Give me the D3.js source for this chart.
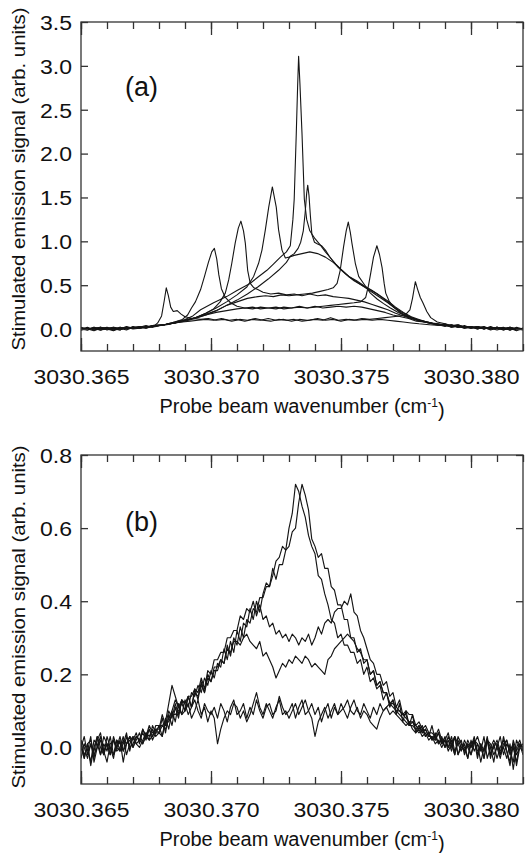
<!doctype html>
<html lang="en">
<head>
<meta charset="UTF-8">
<title>Stimulated emission spectra</title>
<style type="text/css">
body {
  margin: 0;
  padding: 0;
  background: #fff;
}
</style>
<script src="https://cdn.jsdelivr.net/npm/d3@7"></script>
</head>
<body>
<div id="chart"></div>
<script type="text/javascript">

var FONT = "'Liberation Sans', Arial, sans-serif";

// wavenumbers are stored as offsets from X0, in units of 0.001 cm-1
var X0 = 3030.365;
var xMax = 17;
var majorTicks = [3030.365, 3030.370, 3030.375, 3030.380];
var minorOffsets = [0, 1, 2, 3, 4, 5, 6, 7, 8, 9, 10, 11, 12, 13, 14, 15, 16, 17];

var ticksA = [0, 0.5, 1.0, 1.5, 2.0, 2.5, 3.0, 3.5];
var ticksB = [0, 0.2, 0.4, 0.6, 0.8];

// panel (a): [offset, signal]
var trA1 = [[0,0.00],[0.25,0.02],[0.5,-0.01],[0.75,0.01],[1,0.00],[1.25,-0.02],[1.5,0.01],[1.75,0.02],[2,0.00],[2.25,0.01],[2.5,0.03],[2.75,0.02],[2.95,0.07],[3.1,0.15],[3.2,0.32],[3.28,0.47],[3.36,0.38],[3.45,0.25],[3.55,0.20],[3.7,0.21],[3.85,0.17],[4.0,0.14],[4.3,0.12],[4.6,0.11],[4.9,0.12],[5.2,0.10],[5.5,0.11],[5.8,0.09],[6.1,0.11],[6.4,0.10],[6.7,0.12],[7.0,0.10],[7.3,0.09],[7.6,0.11],[7.9,0.10],[8.2,0.11],[8.5,0.09],[8.8,0.10],[9.1,0.12],[9.4,0.10],[9.7,0.11],[10.0,0.09],[10.3,0.11],[10.6,0.10],[10.9,0.11],[11.2,0.10],[11.5,0.11],[11.8,0.10],[12.1,0.09],[12.4,0.08],[12.7,0.07],[13.0,0.06],[13.4,0.05],[13.8,0.04],[14,0.05],[14.25,0.02],[14.5,0.03],[14.75,0.01],[15,0.03],[15.25,0.00],[15.5,0.02],[15.75,-0.01],[16,0.01],[16.25,0.02],[16.5,-0.01],[16.75,0.01],[17,0.00]];
var trA2 = [[0,0.01],[0.25,-0.01],[0.5,0.02],[0.75,0.00],[1,0.01],[1.25,-0.01],[1.5,0.02],[1.75,0.00],[2,0.03],[2.25,0.01],[2.5,0.02],[2.75,0.04],[3.2,0.05],[3.6,0.08],[3.9,0.11],[4.1,0.16],[4.25,0.24],[4.4,0.31],[4.5,0.38],[4.6,0.45],[4.75,0.60],[4.9,0.76],[5.03,0.88],[5.13,0.92],[5.22,0.80],[5.3,0.62],[5.4,0.46],[5.55,0.36],[5.75,0.30],[6.0,0.26],[6.3,0.24],[6.6,0.25],[6.9,0.23],[7.2,0.24],[7.5,0.25],[7.8,0.23],[8.1,0.24],[8.4,0.25],[8.7,0.24],[9.0,0.26],[9.3,0.24],[9.6,0.25],[9.9,0.26],[10.2,0.25],[10.5,0.26],[10.8,0.25],[11.1,0.23],[11.4,0.21],[11.7,0.19],[12.0,0.16],[12.3,0.14],[12.6,0.12],[12.9,0.09],[13.2,0.08],[13.5,0.06],[13.75,0.05],[14,0.03],[14.25,0.05],[14.5,0.02],[14.75,0.03],[15,0.01],[15.25,0.03],[15.5,0.00],[15.75,0.02],[16,0.01],[16.25,-0.01],[16.5,0.02],[16.75,0.00],[17,0.01]];
var trA3 = [[0,-0.01],[0.25,0.01],[0.5,0.00],[0.75,0.02],[1,-0.01],[1.25,0.01],[1.5,0.00],[1.75,0.03],[2,0.01],[2.25,0.02],[2.5,0.01],[2.75,0.04],[3.2,0.05],[3.6,0.07],[4.0,0.10],[4.4,0.13],[4.8,0.18],[5.1,0.23],[5.35,0.31],[5.55,0.41],[5.68,0.56],[5.8,0.75],[5.93,0.98],[6.05,1.15],[6.15,1.23],[6.25,1.12],[6.32,0.98],[6.41,0.67],[6.51,0.52],[6.65,0.47],[6.8,0.45],[7.0,0.42],[7.3,0.40],[7.6,0.41],[7.9,0.39],[8.2,0.40],[8.5,0.38],[8.8,0.40],[9.1,0.38],[9.4,0.39],[9.7,0.37],[10.0,0.36],[10.3,0.35],[10.6,0.33],[10.9,0.31],[11.2,0.28],[11.5,0.25],[11.8,0.22],[12.1,0.18],[12.4,0.15],[12.7,0.12],[13.0,0.10],[13.3,0.08],[13.6,0.06],[14,0.04],[14.25,0.05],[14.5,0.02],[14.75,0.04],[15,0.01],[15.25,0.02],[15.5,0.03],[15.75,0.00],[16,0.02],[16.25,0.00],[16.5,0.01],[16.75,-0.01],[17,0.01]];
var trA4 = [[0,0.01],[0.25,0.00],[0.5,-0.02],[0.75,0.01],[1,0.02],[1.25,0.00],[1.5,0.01],[1.75,-0.01],[2,0.02],[2.25,0.03],[2.5,0.01],[2.75,0.03],[3.2,0.05],[3.6,0.07],[4.0,0.10],[4.4,0.13],[4.8,0.18],[5.2,0.24],[5.6,0.31],[6.0,0.39],[6.38,0.48],[6.64,0.60],[6.83,0.75],[6.96,0.90],[7.09,1.13],[7.22,1.39],[7.36,1.62],[7.51,1.39],[7.6,1.13],[7.73,0.90],[7.86,0.81],[8.0,0.82],[8.2,0.84],[8.5,0.86],[8.8,0.88],[9.1,0.86],[9.4,0.82],[9.7,0.76],[10.0,0.68],[10.3,0.60],[10.6,0.54],[10.9,0.48],[11.2,0.42],[11.5,0.36],[11.8,0.30],[12.1,0.23],[12.4,0.17],[12.7,0.13],[13.0,0.10],[13.3,0.08],[13.6,0.06],[14,0.05],[14.25,0.03],[14.5,0.04],[14.75,0.02],[15,0.03],[15.25,0.01],[15.5,0.02],[15.75,0.01],[16,-0.01],[16.25,0.01],[16.5,0.02],[16.75,0.00],[17,0.00]];
var trA5 = [[0,0.00],[0.25,0.01],[0.5,0.00],[0.75,-0.01],[1,0.01],[1.25,0.02],[1.5,0.00],[1.75,0.01],[2,0.02],[2.25,0.01],[2.5,0.03],[2.75,0.03],[3.2,0.05],[3.6,0.08],[4.0,0.11],[4.3,0.15],[4.6,0.22],[5.1,0.30],[5.6,0.37],[6.0,0.44],[6.5,0.52],[6.8,0.59],[7.15,0.67],[7.4,0.74],[7.67,0.82],[7.9,0.88],[8.05,0.95],[8.15,1.25],[8.2,1.48],[8.28,2.23],[8.33,2.75],[8.37,3.11],[8.42,2.80],[8.5,2.23],[8.59,1.48],[8.68,1.25],[8.8,1.12],[9.0,1.03],[9.2,0.96],[9.4,0.88],[9.6,0.81],[9.8,0.74],[10.0,0.68],[10.3,0.60],[10.6,0.55],[10.9,0.49],[11.2,0.44],[11.5,0.38],[11.8,0.32],[12.1,0.25],[12.4,0.19],[12.7,0.14],[13.0,0.11],[13.3,0.08],[13.6,0.06],[14,0.04],[14.25,0.03],[14.5,0.05],[14.75,0.02],[15,0.02],[15.25,0.03],[15.5,0.00],[15.75,0.02],[16,0.01],[16.25,0.00],[16.5,0.02],[16.75,-0.01],[17,0.01]];
var trA6 = [[0,0.00],[0.25,-0.01],[0.5,0.01],[0.75,0.02],[1,0.00],[1.25,0.01],[1.5,-0.01],[1.75,0.02],[2,0.01],[2.25,0.02],[2.5,0.04],[2.75,0.02],[3.2,0.05],[3.6,0.07],[4.0,0.10],[4.4,0.13],[4.8,0.17],[5.2,0.21],[5.6,0.27],[6.0,0.33],[6.4,0.40],[6.8,0.48],[7.2,0.57],[7.6,0.67],[7.9,0.76],[8.05,0.83],[8.2,0.86],[8.35,0.92],[8.45,0.99],[8.55,1.12],[8.62,1.32],[8.68,1.55],[8.72,1.64],[8.77,1.52],[8.82,1.30],[8.88,1.08],[8.98,0.99],[9.1,0.97],[9.25,0.95],[9.4,0.90],[9.55,0.83],[9.7,0.77],[9.9,0.70],[10.2,0.62],[10.5,0.55],[10.8,0.50],[11.1,0.45],[11.4,0.40],[11.7,0.33],[12.0,0.26],[12.3,0.20],[12.6,0.15],[12.9,0.11],[13.2,0.09],[13.5,0.07],[13.75,0.06],[14,0.04],[14.25,0.04],[14.5,0.02],[14.75,0.03],[15,0.02],[15.25,0.00],[15.5,0.02],[15.75,0.01],[16,0.02],[16.25,-0.01],[16.5,0.01],[16.75,0.01],[17,-0.01]];
var trA7 = [[0,0.02],[0.25,0.00],[0.5,0.01],[0.75,-0.01],[1,0.00],[1.25,0.02],[1.5,0.01],[1.75,0.00],[2,0.02],[2.25,0.01],[2.5,0.02],[2.75,0.03],[3.2,0.05],[3.6,0.07],[4.0,0.09],[4.4,0.12],[4.8,0.16],[5.2,0.21],[5.6,0.27],[6.0,0.31],[6.4,0.35],[6.8,0.37],[7.1,0.38],[7.4,0.37],[7.7,0.39],[8.0,0.38],[8.3,0.39],[8.6,0.40],[8.9,0.41],[9.2,0.43],[9.5,0.45],[9.7,0.47],[9.85,0.52],[9.97,0.67],[10.1,0.94],[10.2,1.12],[10.28,1.22],[10.36,1.10],[10.42,0.98],[10.55,0.75],[10.68,0.60],[10.87,0.52],[11.13,0.41],[11.4,0.34],[11.64,0.29],[11.9,0.24],[12.2,0.19],[12.5,0.15],[12.8,0.12],[13.1,0.09],[13.4,0.07],[13.75,0.05],[14,0.06],[14.25,0.03],[14.5,0.04],[14.75,0.01],[15,0.02],[15.25,0.02],[15.5,0.00],[15.75,0.03],[16,0.00],[16.25,0.01],[16.5,-0.01],[16.75,0.02],[17,0.00]];
var trA8 = [[0,-0.01],[0.25,0.01],[0.5,0.00],[0.75,0.02],[1,0.01],[1.25,-0.01],[1.5,0.02],[1.75,0.01],[2,0.01],[2.25,0.03],[2.5,0.02],[2.75,0.04],[3.2,0.05],[3.6,0.07],[4.0,0.10],[4.4,0.13],[4.8,0.16],[5.2,0.19],[5.6,0.21],[6.0,0.23],[6.3,0.24],[6.6,0.23],[6.9,0.25],[7.2,0.24],[7.5,0.23],[7.8,0.25],[8.1,0.24],[8.4,0.26],[8.7,0.24],[9.0,0.25],[9.3,0.26],[9.6,0.27],[9.9,0.28],[10.2,0.29],[10.5,0.30],[10.75,0.31],[10.95,0.36],[11.06,0.50],[11.15,0.65],[11.25,0.82],[11.38,0.95],[11.48,0.85],[11.58,0.70],[11.66,0.52],[11.72,0.41],[11.85,0.32],[12.0,0.26],[12.3,0.18],[12.6,0.13],[12.9,0.10],[13.2,0.08],[13.5,0.06],[13.75,0.04],[14,0.05],[14.25,0.02],[14.5,0.04],[14.75,0.02],[15,0.01],[15.25,0.03],[15.5,0.01],[15.75,0.00],[16,0.02],[16.25,0.00],[16.5,0.01],[16.75,-0.02],[17,0.01]];
var trA9 = [[0,0.01],[0.25,0.00],[0.5,0.02],[0.75,-0.01],[1,0.01],[1.25,0.00],[1.5,-0.01],[1.75,0.02],[2,0.01],[2.25,0.02],[2.5,0.02],[2.75,0.03],[3.0,0.04],[3.3,0.05],[3.6,0.07],[3.9,0.08],[4.2,0.09],[4.5,0.10],[4.8,0.11],[5.1,0.10],[5.4,0.12],[5.7,0.10],[6.0,0.11],[6.3,0.09],[6.6,0.11],[6.9,0.10],[7.2,0.12],[7.5,0.10],[7.8,0.11],[8.1,0.09],[8.4,0.11],[8.7,0.10],[9.0,0.11],[9.3,0.10],[9.6,0.13],[9.9,0.10],[10.2,0.11],[10.5,0.10],[10.8,0.12],[11.1,0.11],[11.4,0.12],[11.7,0.13],[12.0,0.14],[12.3,0.15],[12.5,0.17],[12.65,0.22],[12.75,0.35],[12.86,0.54],[12.95,0.45],[13.05,0.36],[13.15,0.30],[13.3,0.20],[13.45,0.13],[13.7,0.08],[14,0.06],[14.25,0.04],[14.5,0.05],[14.75,0.02],[15,0.03],[15.25,0.01],[15.5,0.02],[15.75,0.00],[16,0.02],[16.25,0.01],[16.5,-0.01],[16.75,0.01],[17,0.00]];

// panel (b): common sampling grid (offsets), signals in units of 0.01
var gridB = [
  0,0.125,0.25,0.375,0.5,0.625,0.75,0.875,
  1,1.125,1.25,1.375,1.5,1.625,1.75,1.875,
  2,2.125,2.25,2.375,2.5,2.625,2.75,2.875,
  3,3.125,3.25,3.375,3.5,3.625,3.75,3.875,
  4,4.125,4.25,4.375,4.5,4.625,4.75,4.875,
  5,5.125,5.25,5.375,5.5,5.625,5.75,5.875,
  6,6.125,6.25,6.375,6.5,6.625,6.75,6.875,
  7,7.125,7.25,7.375,7.5,7.625,7.75,7.875,
  8,8.125,8.25,8.375,8.5,8.625,8.75,8.875,
  9,9.125,9.25,9.375,9.5,9.625,9.75,9.875,
  10,10.125,10.25,10.375,10.5,10.625,10.75,10.875,
  11,11.125,11.25,11.375,11.5,11.625,11.75,11.875,
  12,12.125,12.25,12.375,12.5,12.625,12.75,12.875,
  13,13.125,13.25,13.375,13.5,13.625,13.75,13.875,
  14,14.125,14.25,14.375,14.5,14.625,14.75,14.875,
  15,15.125,15.25,15.375,15.5,15.625,15.75,15.875,
  16,16.125,16.25,16.375,16.5,16.625,16.75,16.875,
  17];
var trB1 = [
  2,-3,1,-5,0,3,-2,1,
  -1,3,-2,0,2,-4,1,3,
  0,2,4,1,3,5,2,4,
  6,3,8,5,10,7,12,9,
  13,11,15,14,17,15,19,17,
  21,19,23,22,27,24,29,26,
  32,29,34,33,38,35,40,37,
  42,45,44,47,51,52,55,54,
  60,64,72,70,66,63,58,55,
  53,47,46,42,39,35,34,30,
  31,28,28,26,26,23,24,20,
  22,18,19,16,17,13,15,11,
  13,9,12,7,10,6,9,4,
  6,4,5,3,6,2,4,1,
  3,0,2,-2,3,1,-1,2,
  0,3,-2,1,-3,2,0,-4,
  1,-2,3,-1,-4,2,-1,1,
  -2];
var trB2 = [
  -3,1,-1,3,-4,0,2,-2,
  3,0,-3,2,-1,1,4,-1,
  3,1,2,5,3,2,6,4,
  4,8,4,9,6,11,8,13,
  10,14,11,16,13,18,15,20,
  18,22,22,24,23,28,25,30,
  28,33,30,35,34,38,37,41,
  41,44,44,49,46,50,50,54,
  55,59,60,67,72,69,65,57,
  55,52,53,49,49,44,43,39,
  39,35,35,30,30,26,27,23,
  24,20,21,17,18,15,15,12,
  13,10,10,9,9,6,7,6,
  5,6,3,4,2,4,1,3,
  0,2,-1,3,-2,1,0,-3,
  2,-1,1,-4,0,2,-2,1,
  -3,0,2,-1,-5,1,-2,0,
  -1];
var trB3 = [
  0,3,-2,1,-3,2,4,-1,
  1,-2,3,0,-1,2,1,3,
  2,4,1,5,3,6,4,5,
  5,9,6,10,8,12,9,13,
  12,14,14,16,15,19,16,21,
  20,24,24,26,26,30,30,32,
  32,36,35,38,37,40,36,39,
  35,36,33,34,31,32,30,31,
  29,31,30,28,30,29,31,28,
  30,33,31,34,35,34,37,38,
  38,40,39,42,37,36,32,30,
  27,24,23,20,20,17,18,14,
  15,11,13,9,10,9,9,6,
  7,5,6,4,4,3,5,2,
  2,4,0,3,1,-1,2,0,
  -2,2,1,-1,3,-3,0,2,
  0,-3,1,2,-2,0,-4,1,
  0];
var trB4 = [
  1,-2,0,-4,2,1,-2,3,
  1,0,-2,2,1,-1,3,0,
  1,3,2,4,2,5,3,6,
  6,6,7,7,9,9,10,12,
  10,14,11,15,14,17,15,19,
  18,21,21,24,23,27,26,29,
  29,28,30,31,29,28,27,29,
  25,26,24,22,19,21,23,22,
  24,23,25,24,23,25,24,22,
  23,22,21,20,24,25,27,28,
  29,30,31,30,29,27,26,24,
  24,20,21,17,18,15,15,12,
  12,11,10,9,8,7,7,5,
  6,4,5,3,3,2,4,1,
  2,0,3,-1,1,2,-2,1,
  0,2,-3,1,-1,3,-2,0,
  2,-1,0,-3,1,-6,0,2,
  -1];
var trB5 = [
  0,-3,1,2,-2,0,3,-1,
  -4,1,2,-1,0,3,-2,1,
  3,1,0,2,4,2,3,5,
  4,3,7,12,17,14,11,13,
  12,9,11,13,10,8,12,10,
  9,11,8,12,10,7,11,13,
  9,10,12,8,11,9,13,10,
  8,11,12,9,10,14,11,9,
  10,12,8,11,13,9,10,12,
  9,11,7,10,12,8,11,9,
  12,10,8,11,13,10,9,12,
  10,8,11,9,12,10,11,9,
  10,9,8,7,6,7,5,4,
  5,3,4,2,3,1,2,0,
  2,-1,1,3,-2,0,1,-3,
  1,2,-1,0,-3,2,1,-2,
  0,3,-2,1,-1,-4,2,0,
  1];
var trB6 = [
  2,0,-3,1,-1,3,0,-2,
  1,-2,2,0,3,-1,1,2,
  0,3,2,1,4,3,5,3,
  4,6,5,8,10,13,11,9,
  10,12,8,10,13,9,11,7,
  10,8,1,5,8,10,9,12,
  11,8,10,7,9,12,15,11,
  9,12,10,8,11,13,9,10,
  8,10,12,9,11,13,10,8,
  3,7,9,11,8,10,12,9,
  10,11,13,10,9,11,8,10,
  9,7,6,5,8,10,11,12,
  11,10,9,8,7,6,6,5,
  4,5,3,4,2,3,1,2,
  0,3,1,-2,2,0,-1,1,
  -2,1,3,0,-1,2,-3,1,
  1,-2,0,2,-1,1,-5,0,
  1];

var tracesA = [trA1, trA2, trA3, trA4, trA5, trA6, trA7, trA8, trA9];
var tracesB = [trB1, trB2, trB3, trB4, trB5, trB6].map(function(vals) {
  return vals.map(function(v, i) { return [gridB[i], v / 100]; });
});

var W = 525, H = 853;
var plotLeft = 81, plotRight = 523;

var svg = d3.select('#chart').append('svg')
  .attr('width', W)
  .attr('height', H)
  .style('display', 'block');

var x = d3.scaleLinear()
  .domain([X0, X0 + xMax / 1000])
  .range([0, plotRight - plotLeft]);

function styleText(sel, size, len) {
  sel.selectAll('text')
    .style('font-family', FONT)
    .style('font-size', size + 'px')
    .attr('fill', '#111')
    .attr('textLength', len)
    .attr('lengthAdjust', 'spacingAndGlyphs');
}

function drawPanel(cfg) {
  var w = plotRight - plotLeft;
  var h = cfg.bottom - cfg.top;
  var g = svg.append('g').attr('transform', 'translate(' + plotLeft + ',' + cfg.top + ')');

  var y = d3.scaleLinear().domain(cfg.yDomain).range([h, 0]);
  var minor = minorOffsets.map(function(d) { return X0 + d / 1000; });

  g.append('clipPath').attr('id', cfg.id)
    .append('rect').attr('width', w).attr('height', h);

  var line = d3.line()
    .x(function(d) { return x(X0 + d[0] / 1000); })
    .y(function(d) { return y(d[1]); });

  g.append('g')
    .attr('clip-path', 'url(#' + cfg.id + ')')
    .selectAll('path')
    .data(cfg.traces)
    .enter()
    .append('path')
    .attr('d', line)
    .attr('fill', 'none')
    .attr('stroke', '#151515')
    .attr('stroke-width', cfg.lineWidth)
    .attr('stroke-linejoin', 'round');

  function noDomain(a) { a.select('.domain').remove(); }

  var axes = g.append('g').attr('color', '#333');

  axes.append('g').attr('transform', 'translate(0,' + h + ')')
    .call(d3.axisBottom(x).tickValues(minor).tickSize(-7).tickFormat(''))
    .call(noDomain);
  var bottomMajor = axes.append('g').attr('transform', 'translate(0,' + h + ')')
    .call(d3.axisBottom(x).tickValues(majorTicks).tickSize(-13).tickPadding(18).tickFormat(d3.format('.3f')))
    .call(noDomain);
  styleText(bottomMajor, 20.5, 96);

  axes.append('g')
    .call(d3.axisTop(x).tickValues(minor).tickSize(-7).tickFormat(''))
    .call(noDomain);
  axes.append('g')
    .call(d3.axisTop(x).tickValues(majorTicks).tickSize(-13).tickFormat(''))
    .call(noDomain);

  var left = axes.append('g')
    .call(d3.axisLeft(y).tickValues(cfg.yTicks).tickSize(-7).tickPadding(9).tickFormat(d3.format('.1f')))
    .call(noDomain);
  styleText(left, 20.5, 32);
  left.selectAll('text').attr('dy', '0.36em');

  axes.append('g').attr('transform', 'translate(' + w + ',0)')
    .call(d3.axisRight(y).tickValues(cfg.yTicks).tickSize(-7).tickFormat(''))
    .call(noDomain);

  axes.selectAll('.tick line').attr('stroke-width', 1.3);

  g.append('rect')
    .attr('width', w)
    .attr('height', h)
    .attr('fill', 'none')
    .attr('stroke', '#333')
    .attr('stroke-width', 1.3);

  // panel label
  svg.append('text')
    .attr('x', 125)
    .attr('y', cfg.labelY)
    .style('font-family', FONT)
    .style('font-size', '27px')
    .attr('fill', '#111')
    .text(cfg.label);

  // y title
  svg.append('text')
    .attr('transform', 'translate(25,' + cfg.titleY + ') rotate(-90)')
    .attr('text-anchor', 'middle')
    .style('font-family', FONT)
    .style('font-size', '18px')
    .attr('fill', '#111')
    .attr('textLength', 343)
    .attr('lengthAdjust', 'spacingAndGlyphs')
    .text('Stimulated emission signal (arb. units)');

  // x title
  var xt = svg.append('text')
    .attr('x', (plotLeft + plotRight) / 2)
    .attr('y', cfg.bottom + 62)
    .attr('text-anchor', 'middle')
    .style('font-family', FONT)
    .style('font-size', '20px')
    .attr('fill', '#111');
  xt.append('tspan').text('Probe beam wavenumber (cm');
  xt.append('tspan').attr('dy', '-0.5em').style('font-size', '12px').text('-1');
  xt.append('tspan').attr('dy', '0.5em').text(')');
}

drawPanel({
  id: 'clipA',
  top: 22,
  bottom: 351,
  yDomain: [-0.25, 3.5],
  yTicks: ticksA,
  traces: tracesA,
  lineWidth: 1.1,
  label: '(a)',
  labelY: 96,
  titleY: 179
});

drawPanel({
  id: 'clipB',
  top: 455,
  bottom: 784,
  yDomain: [-0.1, 0.8],
  yTicks: ticksB,
  traces: tracesB,
  lineWidth: 1.15,
  label: '(b)',
  labelY: 531,
  titleY: 617
});

</script>
</body>
</html>
